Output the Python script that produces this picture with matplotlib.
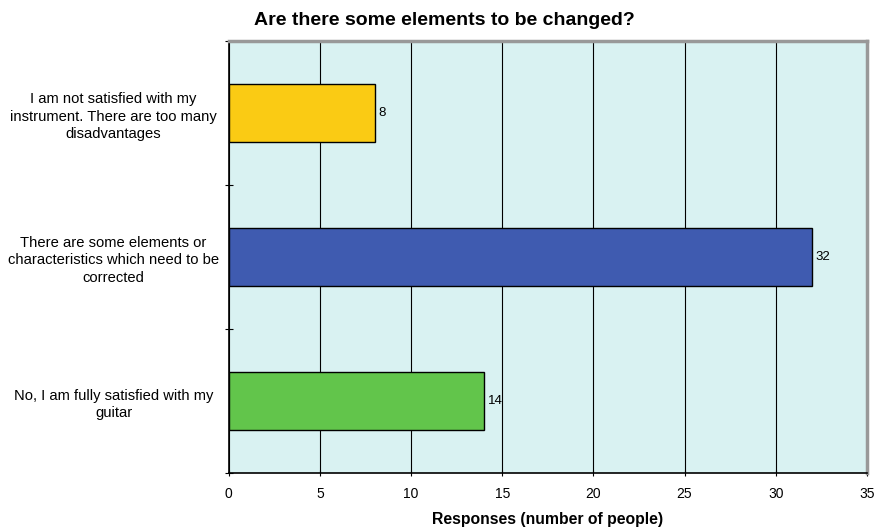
import numpy as np
import matplotlib.pyplot as plt

# survey answers, top to bottom
answers = ["I am not satisfied with my\ninstrument. There are too many\ndisadvantages",
           "There are some elements or\ncharacteristics which need to be\ncorrected",
           "No, I am fully satisfied with my\nguitar"]
counts = [8, 32, 14]
colors = ["#FACB14", "#3F5BB0", "#62C54B"]

plt.rcParams["font.family"] = "Liberation Sans"

fig = plt.figure(figsize=(8.8, 5.27), dpi=100)
ax = fig.add_axes([0.260, 0.1025, 0.725, 0.8195])
ax.set_facecolor("#D9F2F2")

pos = np.arange(len(counts))
ax.barh(pos, counts, height=0.4, color=colors, edgecolor="black", linewidth=1, zorder=3)
for p, c in zip(pos, counts):
    ax.text(c + 0.2, p, str(c), va="center", ha="left", fontsize=9.5, zorder=4)

ax.set_xlim(0, 35)
ax.set_ylim(2.5, -0.5)
ax.set_xticks(range(0, 36, 5))
ax.tick_params(axis="x", labelsize=10, length=4, pad=8, direction="inout")
ax.xaxis.grid(True, color="black", linewidth=0.8, zorder=1)

# y ticks sit on the category boundaries, labels go at centres
ax.set_yticks([-0.5, 0.5, 1.5, 2.5])
ax.set_yticklabels([])
ax.set_yticks(pos, minor=True)
ax.set_yticklabels(answers, minor=True, fontsize=10.6, ha="center",
                   multialignment="center", linespacing=1.35)
ax.tick_params(axis="y", which="minor", length=0, pad=83)
ax.tick_params(axis="y", which="major", length=6, direction="inout")

ax.spines["top"].set_color("#999999")
ax.spines["top"].set_linewidth(2.5)
ax.spines["right"].set_color("#999999")
ax.spines["right"].set_linewidth(2.5)
ax.spines["left"].set_linewidth(1.2)
ax.spines["bottom"].set_linewidth(1.2)

fig.suptitle("Are there some elements to be changed?", x=0.505, y=0.978,
             fontsize=14, fontweight="bold")
ax.set_xlabel("Responses (number of people)", fontsize=11.3, fontweight="bold", labelpad=8)

fig.savefig("out.png", dpi=100)
